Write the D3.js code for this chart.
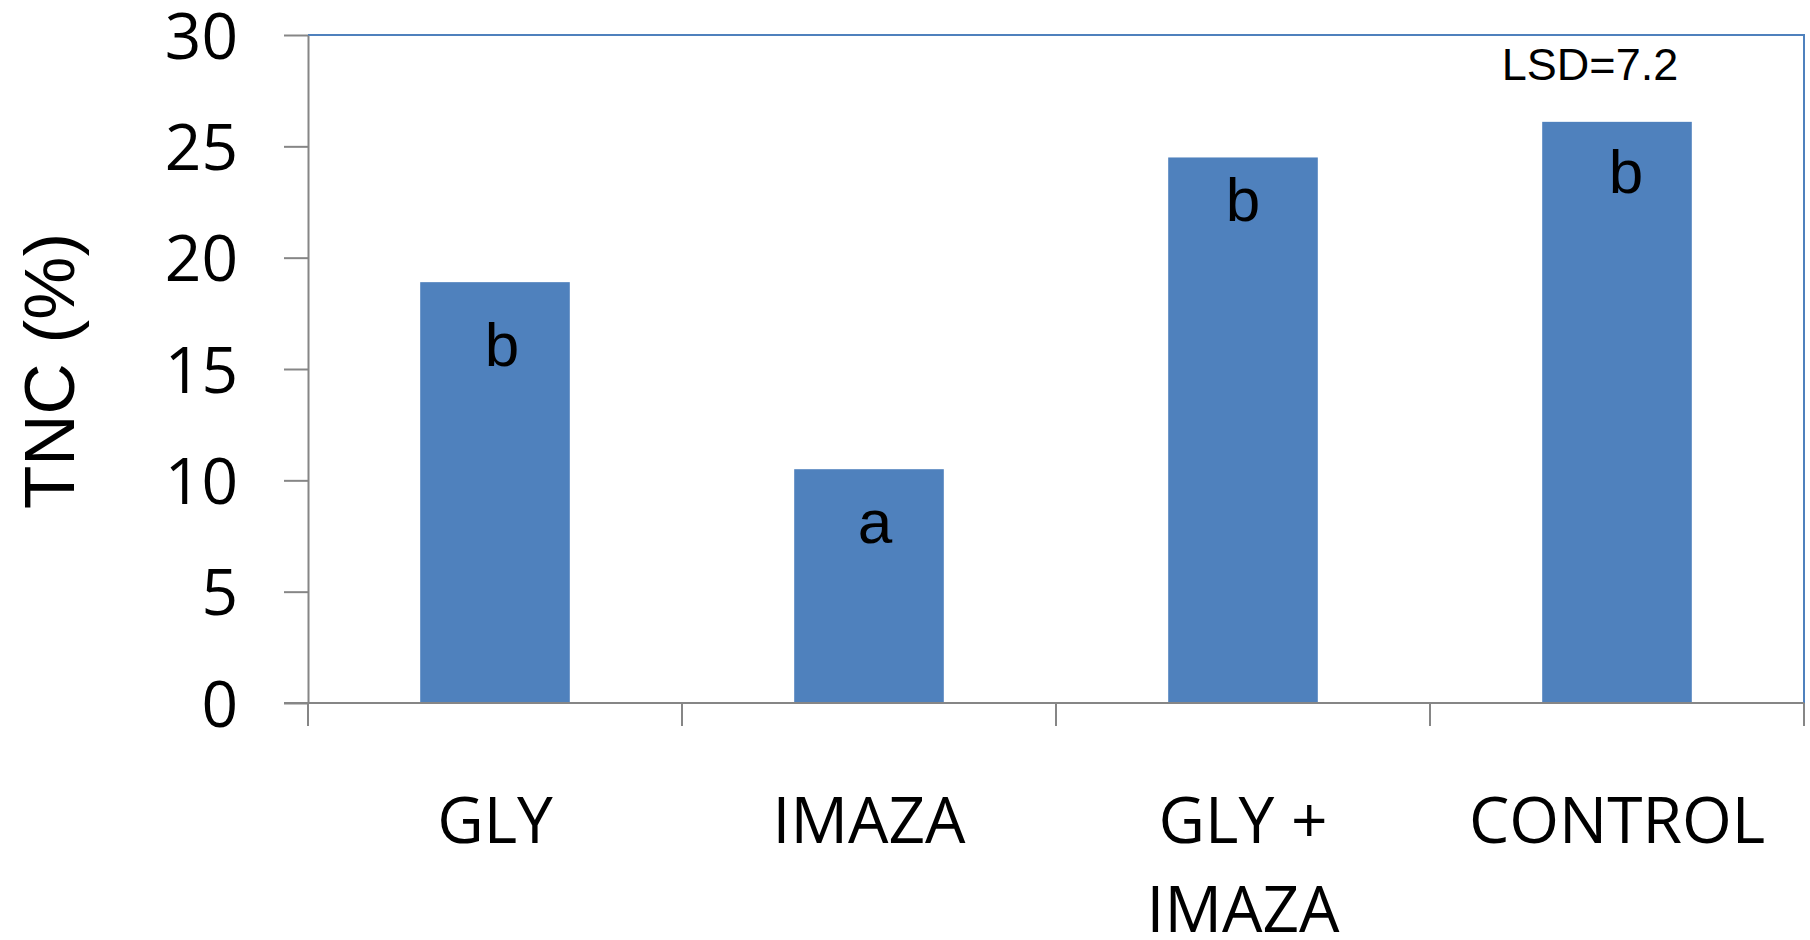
<!DOCTYPE html>
<html>
<head>
<meta charset="utf-8">
<script src="https://cdn.jsdelivr.net/npm/d3@7"></script>
<style>
  html, body { margin: 0; padding: 0; background: #fff; }
  svg { display: block; }
</style>
</head>
<body>
<script>
// ---- data ----
const categories = ["GLY", "IMAZA", "GLY +\nIMAZA", "CONTROL"];
const tncValues = [18.9, 10.5, 24.5, 26.1];
const groupLetters = ["b", "a", "b", "b"];
const yTickValues = [0, 5, 10, 15, 20, 25, 30];
const yAxisTitle = "TNC (%)";
const lsdNote = "LSD=7.2";

// ---- layout ----
const W = 1810, H = 940;
const plot = { left: 308, right: 1804, top: 35, bottom: 703 };
const letterDy = [84, 74, 64, 71];
const letterDx = [7, 6, 0, 9];
const axisGray = "#868686";
const borderBlue = "#4F81BD";
const barColor = "#4F81BD";

const svg = d3.select("body").append("svg").attr("width", W).attr("height", H);

const x = d3.scaleBand()
  .domain(categories)
  .range([plot.left, plot.right])
  .paddingInner(0.6)
  .paddingOuter(0.3);

const y = d3.scaleLinear().domain([0, 30]).range([plot.bottom, plot.top]);

// top and right border (blue)
svg.append("path")
  .attr("d", `M${plot.left},${plot.top}H${plot.right}V${plot.bottom}`)
  .attr("fill", "none").attr("stroke", borderBlue).attr("stroke-width", 2);

// bars
svg.selectAll("rect.bar").data(tncValues).join("rect")
  .attr("class", "bar")
  .attr("x", (d, i) => x(categories[i]))
  .attr("width", x.bandwidth())
  .attr("y", d => y(d))
  .attr("height", d => y(0) - y(d))
  .attr("fill", barColor);

// letters inside bars
svg.selectAll("text.letter").data(groupLetters).join("text")
  .attr("class", "letter")
  .attr("x", (d, i) => x(categories[i]) + x.bandwidth() / 2 + letterDx[i])
  .attr("y", (d, i) => y(tncValues[i]) + letterDy[i])
  .attr("text-anchor", "middle")
  .attr("font-family", "'Liberation Sans', Arial, sans-serif")
  .attr("font-size", 62)
  .attr("fill", "#000")
  .text(d => d);

// y axis
const yAxis = d3.axisLeft(y).tickValues(yTickValues).tickSize(24).tickSizeOuter(0).tickPadding(46);
const gy = svg.append("g").attr("transform", `translate(${plot.left},0)`).call(yAxis);
gy.select(".domain").attr("stroke", axisGray).attr("stroke-width", 2);
gy.selectAll(".tick line").attr("stroke", axisGray).attr("stroke-width", 2);
gy.selectAll(".tick text")
  .attr("font-family", "'Open Sans', sans-serif")
  .attr("font-size", 64)
  .attr("fill", "#000")
  .attr("dy", "0.36em");

// x axis baseline + boundary ticks
const gx = svg.append("g");
gx.append("line")
  .attr("x1", plot.left - 24).attr("x2", plot.right)
  .attr("y1", y(0)).attr("y2", y(0))
  .attr("stroke", axisGray).attr("stroke-width", 2);
const boundaries = d3.range(categories.length + 1).map(i => x.range()[0] + i * x.step());
gx.selectAll("line.xt").data(boundaries).join("line")
  .attr("class", "xt")
  .attr("x1", d => d).attr("x2", d => d)
  .attr("y1", y(0)).attr("y2", y(0) + 23)
  .attr("stroke", axisGray).attr("stroke-width", 2);

// category labels
const labels = gx.selectAll("text.cat").data(categories).join("text")
  .attr("class", "cat")
  .attr("text-anchor", "middle")
  .attr("font-family", "'Open Sans', sans-serif")
  .attr("font-size", 64)
  .attr("fill", "#000");
labels.each(function (d) {
  const t = d3.select(this);
  const cx = x(d) + x.bandwidth() / 2;
  d.split("\n").forEach((line, k) => {
    t.append("tspan").attr("x", cx).attr("y", 843 + k * 89).text(line);
  });
});

// y axis title
svg.append("text")
  .attr("transform", `translate(74,${(plot.top + plot.bottom) / 2 + 2}) rotate(-90)`)
  .attr("text-anchor", "middle")
  .attr("font-family", "'Liberation Sans', Arial, sans-serif")
  .attr("font-size", 71)
  .attr("fill", "#000")
  .text(yAxisTitle);

// LSD note
svg.append("text")
  .attr("x", 1590).attr("y", 80)
  .attr("text-anchor", "middle")
  .attr("font-family", "'Liberation Sans', Arial, sans-serif")
  .attr("font-size", 45)
  .attr("fill", "#000")
  .text(lsdNote);
</script>
</body>
</html>
